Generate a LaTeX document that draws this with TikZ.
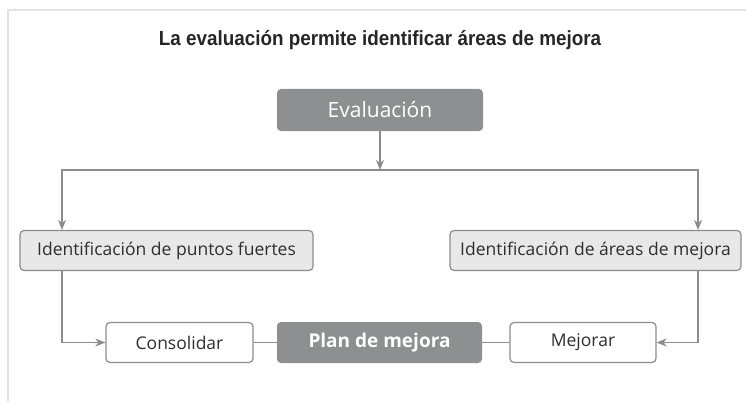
\documentclass[tikz,border=0pt]{standalone}
\usepackage{fontspec}
\setmainfont{Open Sans}
\newfontfamily\titlefont[FakeStretch=0.92]{Liberation Sans}
\usetikzlibrary{arrows.meta}
\definecolor{boxdark}{HTML}{8E8F91}
\definecolor{boxlight}{HTML}{E8E8E8}
\definecolor{edge}{HTML}{8C8C8C}
\definecolor{txt}{HTML}{2E2E2E}
\definecolor{panel}{HTML}{E2E2E2}
\tikzset{
  darkbox/.style={rectangle, rounded corners=4pt, fill=boxdark, draw=none, inner sep=0pt,
    minimum height=42pt, text=white},
  lightbox/.style={rectangle, rounded corners=4pt, fill=boxlight, draw=edge, line width=1.2pt,
    inner sep=0pt, minimum height=40pt, text=txt, font=\fontsize{17.5}{20}\selectfont},
  whitebox/.style={lightbox, fill=white},
  conn/.style={draw=edge, line width=1.5pt},
  arr/.style={conn, -{Stealth[length=10pt,width=8pt,inset=3pt]}}
}
\begin{document}
\begin{tikzpicture}[x=1pt,y=-1pt]
\useasboundingbox (0,0) rectangle (746,401);
\fill[white] (0,0) rectangle (746,401);
% panel edge
\draw[line width=2.2pt, panel] (8,401) -- (8,10) -- (746,10);
% title
\node[text=black!85, font=\titlefont\bfseries\fontsize{20.5}{24}\selectfont] (title) at (380,40) {La evaluación permite identificar áreas de mejora};
% nodes
\node[darkbox, minimum width=206pt, font=\fontsize{21}{24}\selectfont] (eval) at (380,110) {Evaluación};
\node[lightbox, minimum width=293pt] (pf) at (166.5,250.5) {Identificación de puntos fuertes};
\node[lightbox, minimum width=291pt] (am) at (595.5,250.5) {Identificación de áreas de mejora};
\node[whitebox, minimum width=147pt] (cons) at (179.5,342.5) {Consolidar};
\node[darkbox, minimum width=205pt, minimum height=41pt, font=\bfseries\fontsize{19}{22}\selectfont] (plan) at (379.5,342.5) {Plan de mejora};
\node[whitebox, minimum width=146pt] (mej) at (583,342.5) {Mejorar};
% connectors
\coordinate (split) at (380,170);
\coordinate (lt) at (62,170);
\coordinate (rt) at (698,170);
\draw[arr] (eval.south) -- (split);
\draw[arr] (split) -- (lt) -- (lt |- pf.north);
\draw[arr] (split) -- (rt) -- (rt |- am.north);
\draw[arr] (lt |- pf.south) |- (cons.west);
\draw[arr] (rt |- am.south) |- (mej.east);
\draw[conn] (cons) -- (plan);
\draw[conn] (plan) -- (mej);
\end{tikzpicture}
\end{document}
